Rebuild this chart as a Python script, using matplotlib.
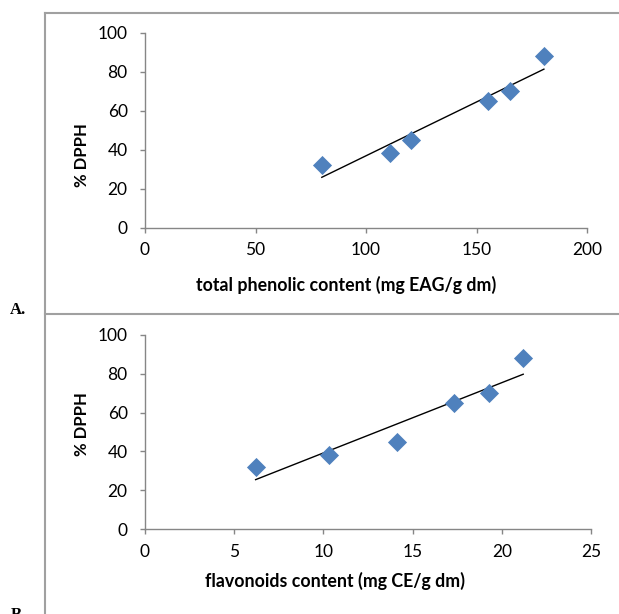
import matplotlib
matplotlib.use("Agg")
import matplotlib.pyplot as plt
from matplotlib.lines import Line2D
import numpy as np

# Data
phenolic = [80, 111, 120.5, 155, 165, 180.5]
flavonoids = [6.2, 10.3, 14.1, 17.3, 19.3, 21.2]
dpph = [32, 38, 45, 65, 70, 88]
y_ticks = [0, 20, 40, 60, 80, 100]
x_ticks_a = [0, 50, 100, 150, 200]
x_ticks_b = [0, 5, 10, 15, 20, 25]
xlabel_a = "total phenolic content (mg EAG/g dm)"
xlabel_b = "flavonoids content (mg CE/g dm)"
ylabel = "% DPPH"

W, H = 619, 614
DPI = 100
fig = plt.figure(figsize=(W / DPI, H / DPI), dpi=DPI)

FONT = "Lato"
AX_GRAY = "#868686"
BLUE = "#4F81BD"


def px_axes(left, top, right, bottom):
    return fig.add_axes([left / W, 1 - bottom / H, (right - left) / W, (bottom - top) / H])


def style(ax, xs, ys, xt, xmax):
    ax.scatter(xs, ys, marker="D", s=95, color=BLUE, zorder=3, linewidths=0)
    coef = np.polyfit(xs, ys, 1)
    xx = np.array([min(xs), max(xs)])
    ax.plot(xx, np.polyval(coef, xx), color="black", lw=1.0, zorder=2)
    ax.set_xlim(0, xmax)
    ax.set_ylim(0, 100)
    ax.set_xticks(xt)
    ax.set_yticks(y_ticks)
    for s in ["top", "right"]:
        ax.spines[s].set_visible(False)
    for s in ["left", "bottom"]:
        ax.spines[s].set_color(AX_GRAY)
        ax.spines[s].set_linewidth(1.0)
    ax.tick_params(axis="x", direction="out", length=3.5, width=1.0, color=AX_GRAY,
                   pad=7, labelsize=12.5, labelcolor="black")
    ax.tick_params(axis="y", direction="out", length=3.5, width=1.0, color=AX_GRAY,
                   pad=9, labelsize=12.5, labelcolor="black")
    for lab in ax.get_xticklabels() + ax.get_yticklabels():
        lab.set_fontfamily(FONT)
    ax.patch.set_alpha(0)


ax1 = px_axes(145, 32.7, 587, 227.5)
style(ax1, phenolic, dpph, x_ticks_a, 200)
ax2 = px_axes(145, 334.7, 591, 529.3)
style(ax2, flavonoids, dpph, x_ticks_b, 25)


def ftext(x, y, s, **kw):
    fig.text(x / W, 1 - y / H, s, **kw)


ftext(82, 154.7, ylabel, rotation=90, ha="center", va="center", fontsize=12,
      fontweight="bold", family=FONT)
ftext(82, 424, ylabel, rotation=90, ha="center", va="center", fontsize=12,
      fontweight="bold", family=FONT)
ftext(346.4, 285, xlabel_a, ha="center", va="center", fontsize=12.8,
      fontweight="bold", family=FONT)
ftext(335.2, 581, xlabel_b, ha="center", va="center", fontsize=12.8,
      fontweight="bold", family=FONT)
ftext(18, 310, "A.", ha="center", va="center", fontsize=12, fontweight="bold",
      family="Liberation Serif")
ftext(18, 607, "B.", ha="center", va="top", fontsize=12, fontweight="bold",
      family="Liberation Serif")

# Frame lines
BORDER = "#a0a0a0"
def fline(x0, y0, x1, y1):
    fig.add_artist(Line2D([x0 / W, x1 / W], [1 - y0 / H, 1 - y1 / H],
                          transform=fig.transFigure, color=BORDER, lw=1.5))

fline(44.7, 12.5, 44.7, H)
fline(44.7, 12.5, W, 12.5)
fline(44.7, 314, W, 314)

fig.savefig("out.png", dpi=DPI)
